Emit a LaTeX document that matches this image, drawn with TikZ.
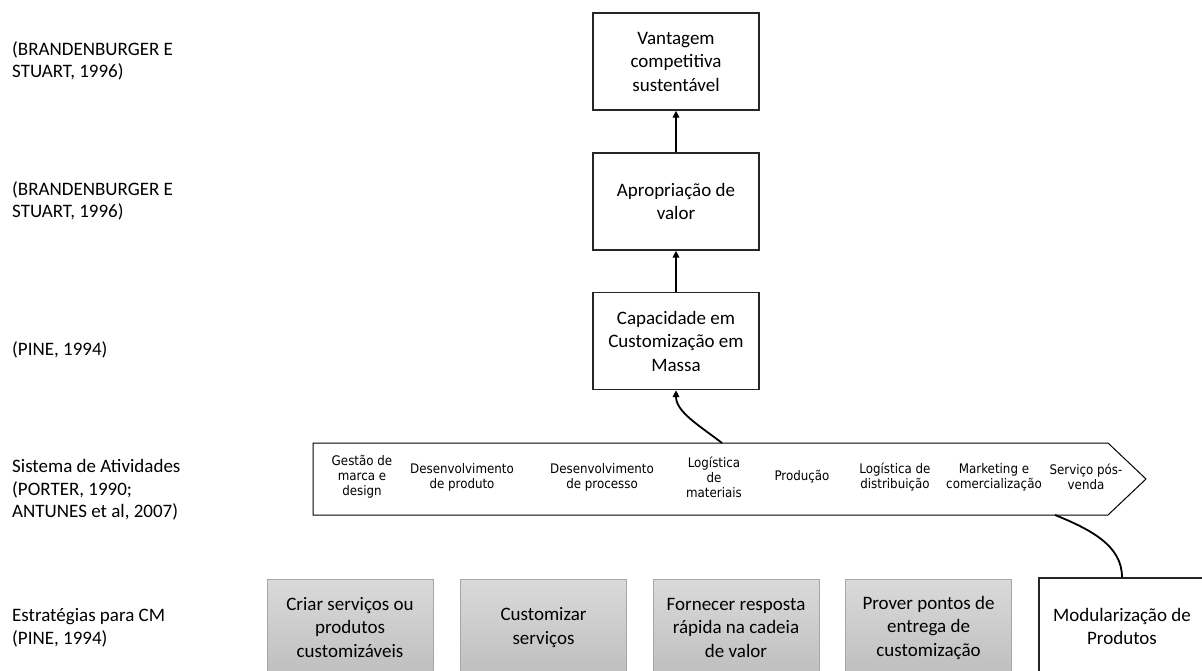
\documentclass[tikz,border=0pt]{standalone}
\usepackage{fontspec}
\setmainfont{Carlito}
\newfontfamily\chevfont{DejaVu Sans Condensed}
\usetikzlibrary{arrows.meta}
\definecolor{boxtop}{HTML}{DADADA}
\definecolor{boxbot}{HTML}{BEBEBE}
\definecolor{boxedge}{HTML}{A6A6A6}

\begin{document}
\begin{tikzpicture}[x=1pt,y=-1pt,
  box/.style={draw=black!85, line width=1.3pt, fill=white,
    minimum width=166pt, minimum height=97pt, align=center, inner sep=0pt,
    font=\fontsize{19}{23.5}\selectfont},
  graybox/.style={box, draw=boxedge, line width=1pt, top color=boxtop, bottom color=boxbot},
  sidelabel/.style={anchor=west, align=left, inner sep=0pt,
    font=\fontsize{19}{22.5}\selectfont},
  activity/.style={align=center, inner sep=0pt,
    font=\chevfont\fontsize{13.2}{15}\selectfont},
  conn/.style={line width=1.8pt, -{Triangle[length=7pt,width=6.5pt]}},
  plainconn/.style={line width=1.8pt}
]
\useasboundingbox (0,0) rectangle (1202,671);
\clip (0,0) rectangle (1202,671);

% references on the left
\node[sidelabel] (l1) at (12,61) {(BRANDENBURGER E\\STUART, 1996)};
\node[sidelabel] (l2) at (12,201) {(BRANDENBURGER E\\STUART, 1996)};
\node[sidelabel] (l3) at (12,350) {(PINE, 1994)};
\node[sidelabel] (l4) at (12,490) {Sistema de Atividades\\(PORTER, 1990;\\ANTUNES et al, 2007)};
\node[sidelabel] (l5) at (12,628) {Estratégias para CM\\(PINE, 1994)};

% central chain
\node[box] (b1) at (676,61.5) {Vantagem\\competitiva\\sustentável};
\node[box] (b2) at (676,201.5) {Apropriação de\\valor};
\node[box] (b3) at (676,341) {Capacidade em\\Customização em\\Massa};

% value chain arrow
\draw[line width=1pt] (313,443) -- (1108,443) -- (1146,479) -- (1108,515) -- (313,515) -- cycle;
\coordinate (chevtop) at (722,443);
\coordinate (chevbot) at (1055,515);

\node[activity] (a1) at (362,477) {Gestão de\\marca e\\design};
\node[activity] (a2) at (462,477) {Desenvolvimento\\de produto};
\node[activity] (a3) at (602,477) {Desenvolvimento\\de processo};
\node[activity] (a4) at (714,477) {Logística\\de\\materiais};
\node[activity] (a5) at (802,477) {Produção};
\node[activity] (a6) at (895,477) {Logística de\\distribuição};
\node[activity] (a7) at (994,477) {Marketing e\\comercialização};
\node[activity] (a8) at (1086,477) {Serviço pós-\\venda};

% strategies
\node[graybox] (s1) at (350,627.5) {Criar serviços ou\\produtos\\customizáveis};
\node[graybox] (s2) at (543.5,627.5) {Customizar\\serviços};
\node[graybox] (s3) at (736,627.5) {Fornecer resposta\\rápida na cadeia\\de valor};
\node[graybox] (s4) at (928.5,627.5) {Prover pontos de\\entrega de\\customização};
\node[box] (mod) at (1122,626.5) {Modularização de\\Produtos};

% connectors
\draw[conn] (b2.north) -- (b1.south);
\draw[conn] (b3.north) -- (b2.south);
\draw[conn] (chevtop) .. controls (700,426) and (676,412) .. (b3.south);
\draw[plainconn] (chevbot) .. controls (1092,530) and (1122,546) .. (mod.north);
\end{tikzpicture}
\end{document}
